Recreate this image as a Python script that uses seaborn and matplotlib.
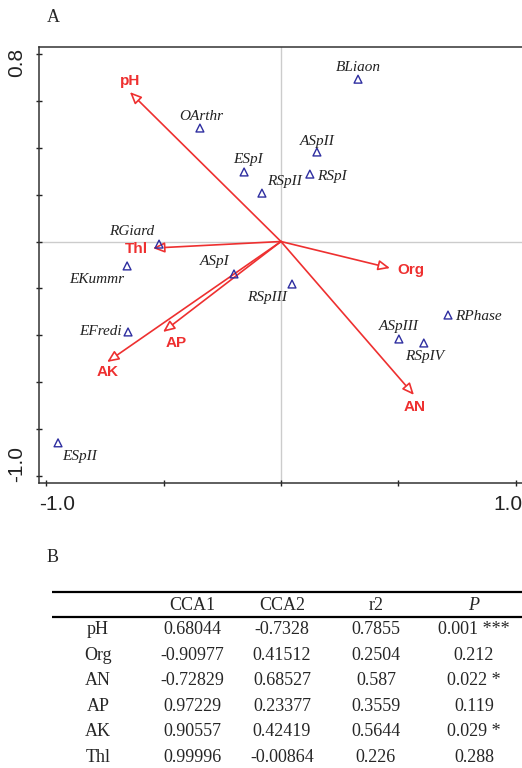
import matplotlib
matplotlib.use("Agg")
import matplotlib.pyplot as plt
import matplotlib.transforms as mtransforms
import numpy as np
import pandas as pd
import seaborn as sns

# site / species scores
species = ["BLiaon", "OArthr", "ASpII", "ESpI", "RSpI", "RSpII", "RGiard", "EKummr",
           "ASpI", "RSpIII", "EFredi", "RPhase", "ASpIII", "RSpIV", "ESpII"]
sp_x = [0.328, -0.345, 0.153, -0.157, 0.123, -0.081, -0.519, -0.655,
        -0.200, 0.047, -0.651, 0.711, 0.502, 0.608, -0.949]
sp_y = [0.691, 0.483, 0.381, 0.296, 0.287, 0.206, -0.011, -0.104,
        -0.138, -0.181, -0.385, -0.313, -0.415, -0.432, -0.857]

# environmental vectors
env = ["pH", "Thl", "Org", "AN", "AP", "AK"]
env_x = [-0.643, -0.545, 0.464, 0.566, -0.502, -0.740]
env_y = [0.636, -0.028, -0.113, -0.653, -0.385, -0.513]

# panel B table
tbl_cols = ["CCA1", "CCA2", "r2", "P"]
tbl_rows = ["pH", "Org", "AN", "AP", "AK", "Thl"]
cca1 = ["0.68044", "-0.90977", "-0.72829", "0.97229", "0.90557", "0.99996"]
cca2 = ["-0.7328", "0.41512", "0.68527", "0.23377", "0.42419", "-0.00864"]
r2 = ["0.7855", "0.2504", "0.587", "0.3559", "0.5644", "0.226"]
pval = ["0.001 ***", "0.212", "0.022 *", "0.119", "0.029 *", "0.288"]

RED = "#EE3030"
BLUE = "#2E2EA0"
SERIF = "Liberation Serif"
SANS = "Liberation Sans"

sns.set_style("ticks")
plt.rcParams["font.family"] = [SANS, "DejaVu Sans"]

fig = plt.figure(figsize=(5.22, 7.68), dpi=100)
ax = fig.add_axes([39 / 522, 1 - 483 / 768, 483 / 522, 436 / 768])

ax.axhline(0, color="#CCCCCC", lw=1, zorder=0)
ax.axvline(0, color="#CCCCCC", lw=1, zorder=0)

df = pd.DataFrame({"x": sp_x, "y": sp_y, "name": species})
sns.scatterplot(data=df, x="x", y="y", marker="^", s=32, facecolor="none",
                edgecolor=BLUE, linewidth=1.0, ax=ax, zorder=3)

# label placement (pixels, y up)
sp_off = {
    "BLiaon": (0, 12, "center"), "OArthr": (1, 12, "center"), "ASpII": (0, 11, "center"),
    "ESpI": (4, 12, "center"), "RSpI": (7, -2, "left"), "RSpII": (5, 12, "left"),
    "RGiard": (-27, 13, "center"), "EKummr": (-3, -14, "right"), "ASpI": (-4, 12, "right"),
    "RSpIII": (-5, -13, "right"), "EFredi": (-6, 0, "right"), "RPhase": (7, -1, "left"),
    "ASpIII": (0, 12, "center"), "RSpIV": (1, -14, "center"), "ESpII": (4, -14, "left"),
}
for name, x, y in zip(species, sp_x, sp_y):
    dx, dy, ha = sp_off[name]
    ax.annotate(name, (x, y), xytext=(dx, dy), textcoords="offset pixels",
                ha=ha, va="center", fontsize=11, style="italic",
                family=SERIF, color="#222222")

env_off = {
    "pH": (0, 11, "center"), "Thl": (-5, -1, "right"), "Org": (7, -2, "left"),
    "AN": (1, -12, "center"), "AP": (13, -11, "center"), "AK": (0, -10, "center"),
}
for name, x, y in zip(env, env_x, env_y):
    ax.annotate("", xy=(x, y), xytext=(0, 0),
                arrowprops=dict(arrowstyle="-|>,head_length=0.5,head_width=0.22",
                                mutation_scale=14, lw=1.2, ec=RED, fc="white",
                                shrinkA=0, shrinkB=0), zorder=2)
    dx, dy, ha = env_off[name]
    ax.annotate(name, (x, y), xytext=(dx, dy), textcoords="offset pixels",
                ha=ha, va="center", fontsize=11, fontweight="bold", color=RED)

ax.set_xlim(-1.030, 1.026)
ax.set_ylim(-1.028, 0.828)
ax.set_xticks(np.arange(-1.0, 1.01, 0.5))
ax.set_xticklabels(["-1.0", "", "", "", "1.0"])
yt = np.round(np.arange(-1.0, 0.81, 0.2), 1)
ax.set_yticks(yt)
ax.set_yticklabels(["-1.0"] + [""] * (len(yt) - 2) + ["0.8"], rotation=90, va="center")
ax.tick_params(direction="inout", length=4, width=1, labelsize=15, pad=7, colors="#222222")
ax.set_xlabel("")
ax.set_ylabel("")
for side in ["left", "bottom", "top"]:
    ax.spines[side].set_color("#333333")
    ax.spines[side].set_linewidth(1.1)
ax.spines["right"].set_visible(False)

# end labels sit a little inward of their ticks in the original
xl = ax.get_xticklabels()
xl[0].set_transform(xl[0].get_transform() + mtransforms.ScaledTranslation(0.11, 0, fig.dpi_scale_trans))
xl[-1].set_transform(xl[-1].get_transform() + mtransforms.ScaledTranslation(-0.08, 0, fig.dpi_scale_trans))
yl = ax.get_yticklabels()
yl[0].set_transform(yl[0].get_transform() + mtransforms.ScaledTranslation(0, 0.12, fig.dpi_scale_trans))
yl[-1].set_transform(yl[-1].get_transform() + mtransforms.ScaledTranslation(0, -0.09, fig.dpi_scale_trans))

fig.text(53 / 522, 1 - 18 / 768, "A", family=SERIF, fontsize=13, ha="center", va="center")
fig.text(53 / 522, 1 - 557 / 768, "B", family=SERIF, fontsize=13, ha="center", va="center")

# table in pixel coordinates
tax = fig.add_axes([0, 0, 1, 208 / 768])
tax.set_xlim(0, 522)
tax.set_ylim(768, 560)
tax.axis("off")
tax.plot([52, 522], [592, 592], color="black", lw=1.6, solid_capstyle="butt")
tax.plot([52, 522], [617, 617], color="black", lw=1.6, solid_capstyle="butt")

col_x = [98, 192, 282, 376, 474]
for cx, head in zip(col_x[1:], tbl_cols):
    tax.text(cx, 605, head, ha="center", va="center", family=SERIF, fontsize=13,
             style="italic" if head == "P" else "normal")

for i, row in enumerate(tbl_rows):
    ry = 630 + i * 25.4
    cells = [row, cca1[i], cca2[i], r2[i], pval[i]]
    for cx, txt in zip(col_x, cells):
        tax.text(cx, ry, txt, ha="center", va="center", family=SERIF, fontsize=13)

fig.savefig("out.png", dpi=100)
